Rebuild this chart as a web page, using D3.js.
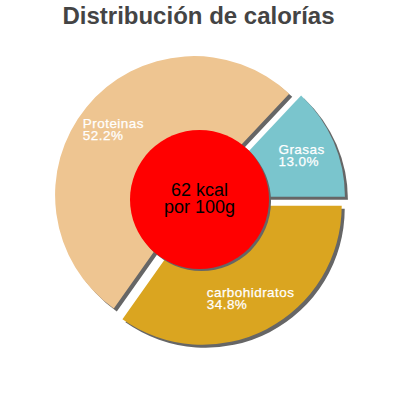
<!DOCTYPE html>
<html>
<head>
<meta charset="utf-8">
<script src="https://cdn.jsdelivr.net/npm/d3@7"></script>
<style>
html,body{margin:0;padding:0;background:#fff;}
svg{display:block;}
</style>
</head>
<body>
<svg id="chart" width="400" height="400"></svg>
<script>
// ---- data ----
const categories = ["Grasas", "Proteinas", "carbohidratos"];
const values = [13.0, 52.2, 34.8];
const colors = ["#7AC5CD", "#EEC591", "#DAA520"];
const title = "Distribución de calorías";
const centerLines = ["62 kcal", "por 100g"];

// ---- layout ----
const cx = 199.5, cy = 199.5, R = 139, explode = 7;
const shadowDx = 3, shadowDy = 3;
const svg = d3.select("#chart");

svg.append("text")
  .attr("x", 198.5).attr("y", 24)
  .attr("text-anchor", "middle")
  .attr("font-family", "Liberation Sans, Arial, sans-serif")
  .attr("font-weight", "bold")
  .attr("font-size", 24)
  .attr("fill", "#444444")
  .text(title);

// first slice (Grasas) ends at 3 o'clock, counter-clockwise order
const pie = d3.pie().value(d => d).sort(null)
  .startAngle(Math.PI / 2).endAngle(Math.PI / 2 - 2 * Math.PI);
const arcs = pie(values);
const arc = d3.arc().innerRadius(0).outerRadius(R);
const norm = d => ({startAngle: Math.min(d.startAngle, d.endAngle), endAngle: Math.max(d.startAngle, d.endAngle)});

function offset(a) {
  const m = (a.startAngle + a.endAngle) / 2;
  return [Math.sin(m) * explode, -Math.cos(m) * explode];
}

const g = svg.append("g").attr("transform", `translate(${cx},${cy})`);

// shadows
g.selectAll("path.shadow").data(arcs).enter().append("path")
  .attr("class", "shadow")
  .attr("d", d => arc(norm(d)))
  .attr("transform", d => { const o = offset(d); return `translate(${o[0] + shadowDx},${o[1] + shadowDy})`; })
  .attr("fill", "#666666");

// slices
g.selectAll("path.slice").data(arcs).enter().append("path")
  .attr("class", "slice")
  .attr("d", d => arc(norm(d)))
  .attr("transform", d => { const o = offset(d); return `translate(${o[0]},${o[1]})`; })
  .attr("fill", (d, i) => colors[i]);

// labels
const fs = 13.5, lh = 12.3;
arcs.forEach((d, i) => {
  const m = (d.startAngle + d.endAngle) / 2;
  const lr = R * 0.8;
  const px = Math.sin(m) * lr, py = -Math.cos(m) * lr;
  const mk = () => g.append("text")
    .attr("font-family", "Liberation Sans, Arial, sans-serif")
    .attr("font-size", fs)
    .attr("letter-spacing", 0.45)
    .attr("fill", "#ffffff")
    .attr("stroke", "#ffffff")
    .attr("stroke-width", 0.25);
  const l1 = mk().text(categories[i]);
  const l2 = mk().text(values[i].toFixed(1) + "%");
  const w = Math.max(l1.node().getComputedTextLength(), l2.node().getComputedTextLength());
  const x0 = px - w / 2;
  const b1 = py - 1.5;
  l1.attr("x", x0).attr("y", b1);
  l2.attr("x", x0).attr("y", b1 + lh);
});

// center circle
const holeR = R * 0.5;
g.append("circle").attr("cx", 2).attr("cy", 2).attr("r", holeR).attr("fill", "#666666");
g.append("circle").attr("cx", 0).attr("cy", 0).attr("r", holeR).attr("fill", "#FF0000");
g.append("text")
  .attr("text-anchor", "middle")
  .attr("font-family", "Liberation Sans, Arial, sans-serif")
  .attr("font-size", 18)
  .attr("fill", "#000")
  .selectAll("tspan").data(centerLines).enter().append("tspan")
  .attr("x", 0)
  .attr("y", (d, i) => -3.5 + i * 17)
  .text(d => d);
</script>
</body>
</html>
